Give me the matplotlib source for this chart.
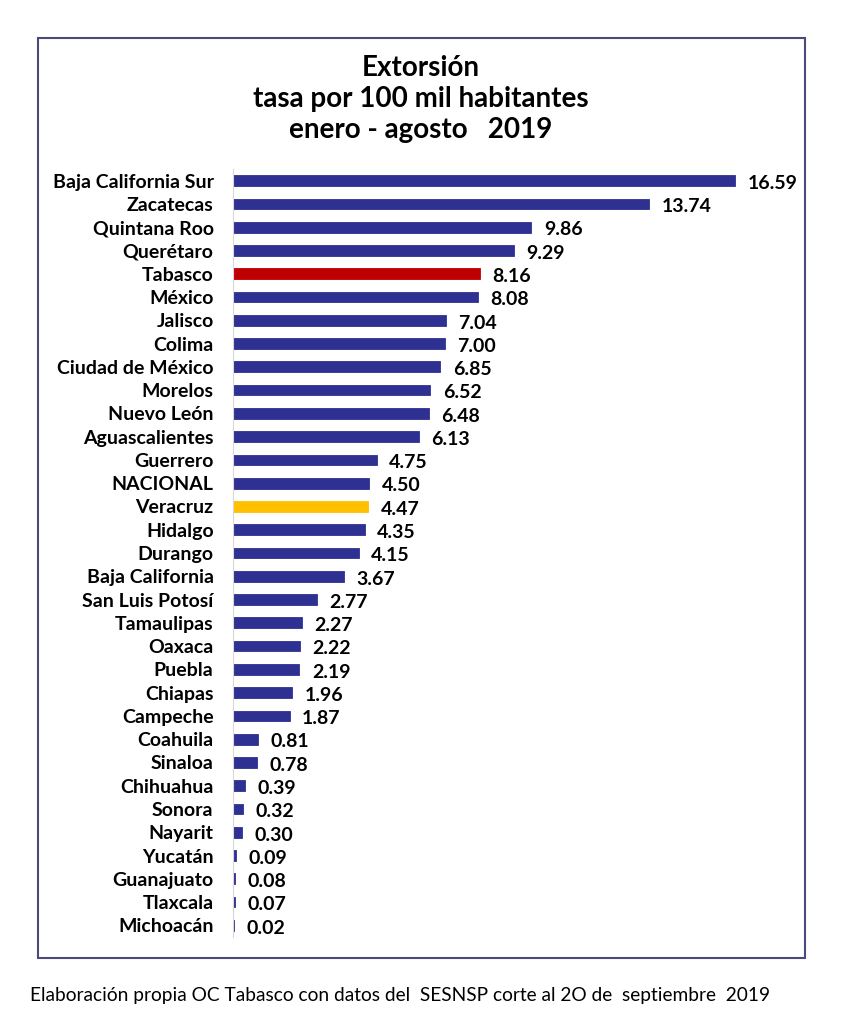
import matplotlib.pyplot as plt
from matplotlib.patches import Rectangle

estados = ['Baja California Sur', 'Zacatecas', 'Quintana Roo', 'Querétaro', 'Tabasco',
           'México', 'Jalisco', 'Colima', 'Ciudad de México', 'Morelos', 'Nuevo León',
           'Aguascalientes', 'Guerrero', 'NACIONAL', 'Veracruz', 'Hidalgo', 'Durango',
           'Baja California', 'San Luis Potosí', 'Tamaulipas', 'Oaxaca', 'Puebla',
           'Chiapas', 'Campeche', 'Coahuila', 'Sinaloa', 'Chihuahua', 'Sonora',
           'Nayarit', 'Yucatán', 'Guanajuato', 'Tlaxcala', 'Michoacán']
tasas = [16.59, 13.74, 9.86, 9.29, 8.16, 8.08, 7.04, 7.00, 6.85, 6.52, 6.48, 6.13,
         4.75, 4.50, 4.47, 4.35, 4.15, 3.67, 2.77, 2.27, 2.22, 2.19, 1.96, 1.87,
         0.81, 0.78, 0.39, 0.32, 0.30, 0.09, 0.08, 0.07, 0.02]

azul = '#2e3192'
colores = []
for e in estados:
    if e == 'Tabasco':
        colores.append('#c00000')
    elif e == 'Veracruz':
        colores.append('#ffc000')
    else:
        colores.append(azul)

plt.rcParams['font.family'] = ['Lato', 'DejaVu Sans']

fig = plt.figure(figsize=(8.41, 10.24), dpi=100)
# marco
fig.patches.append(Rectangle((38 / 841, 1 - 958 / 1024), (805 - 38) / 841, (958 - 38) / 1024,
                             transform=fig.transFigure, fill=False, edgecolor='#4a4a7a', lw=1.5))

ax = fig.add_axes([233 / 841, 1 - 937 / 1024, (795 - 233) / 841, (937 - 169) / 1024])
y = range(len(estados))
ax.barh(y, tasas, height=0.46, color=colores, edgecolor=colores, linewidth=0.6)
ax.set_ylim(len(estados) - 0.5, -0.5)
ax.set_xlim(0, 18.57)
ax.set_yticks(list(y))
ax.set_yticklabels(estados, fontsize=14, fontweight='bold')
ax.tick_params(axis='y', length=0, pad=14)
ax.set_xticks([])
for s in ['top', 'right', 'bottom']:
    ax.spines[s].set_visible(False)
ax.spines['left'].set_color('#d8d8d8')
ax.set_axisbelow(True)

for i, v in enumerate(tasas):
    ax.annotate('%.2f' % v, (v, i), xytext=(9, -2), textcoords='offset points',
                va='center', ha='left', fontsize=14, fontweight='bold')

fig.text(0.5, 1 - 68 / 1024, 'Extorsión', ha='center', va='center', fontsize=20, fontweight='bold')
fig.text(0.5, 1 - 99 / 1024, 'tasa por 100 mil habitantes', ha='center', va='center',
         fontsize=20, fontweight='bold')
fig.text(0.5, 1 - 130 / 1024, 'enero - agosto   2019', ha='center', va='center',
         fontsize=20, fontweight='bold')

fig.text(30 / 841, 1 - 996 / 1024, 'Elaboración propia OC Tabasco con datos del  SESNSP corte al 2O de  septiembre  2019',
         ha='left', va='center', fontsize=13.8)

fig.savefig('out.png', dpi=100)
